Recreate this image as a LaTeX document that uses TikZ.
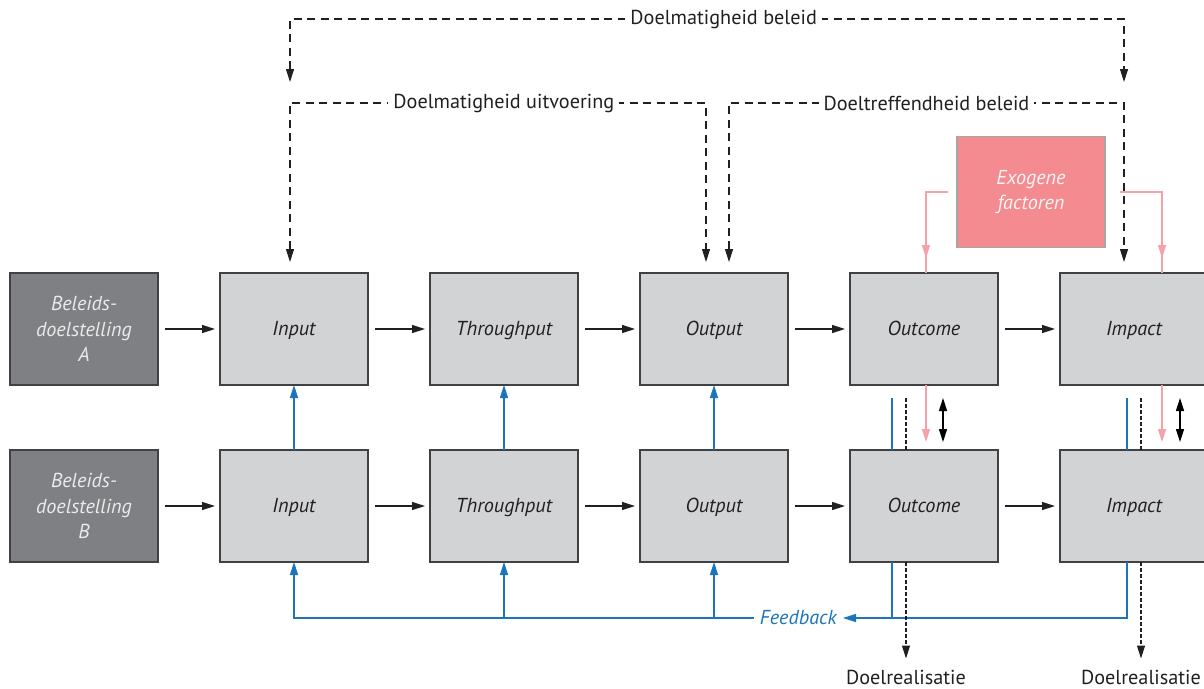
\documentclass[tikz,border=0pt]{standalone}
\usepackage{fontspec}
\setmainfont{PT Sans}
\usepackage{xcolor}
\usetikzlibrary{positioning, arrows.meta, calc, decorations.markings}

\definecolor{boxgrey}{HTML}{D1D3D4}
\definecolor{goalgrey}{HTML}{7F8083}
\definecolor{edgegrey}{HTML}{414042}
\definecolor{textdark}{HTML}{231F20}
\definecolor{fbblue}{HTML}{1C75BC}
\definecolor{exofill}{HTML}{F48B90}
\definecolor{exopink}{HTML}{F7A1A8}

\begin{document}
\begin{tikzpicture}[
    node distance=1.3cm and 1.24cm,
    >={Triangle[length=0.26cm, width=0.16cm]},
    every node/.style={font=\fontsize{11.5}{14.7}\selectfont},
    boxbase/.style={rectangle, draw=edgegrey, fill=boxgrey, line width=0.8pt, outer sep=0pt, minimum width=2.96cm, minimum height=2.24cm, align=center, font=\fontsize{11.5}{14.7}\selectfont\itshape, text=textdark},
    stage/.style={boxbase, text height=0.85em, text depth=0.16em},
    goal/.style={boxbase, fill=goalgrey, text=white!92!black},
    exo/.style={rectangle, draw=black!35, fill=exofill, line width=0.6pt, outer sep=0pt, minimum width=2.96cm, minimum height=2.22cm, align=center, font=\fontsize{11.5}{14.7}\selectfont\itshape, text=white!90!exofill},
    flow/.style={->, line width=0.7pt, draw=textdark, shorten <=0.14cm, shorten >=0.1cm},
    fbline/.style={line width=0.75pt, draw=fbblue},
    fbarrow/.style={fbline, ->},
    exoline/.style={line width=0.7pt, draw=exopink, postaction={decorate}, decoration={markings, mark=at position -0.3cm with {\arrow[exopink]{>}}}},
    exoarrow/.style={line width=0.7pt, draw=exopink, ->},
    dloop/.style={<->, line width=0.6pt, draw=textdark, dash pattern=on 0.16cm off 0.11cm},
    looplabel/.style={fill=white, inner xsep=0.1cm, inner ysep=1pt, text=textdark},
    realline/.style={line width=0.6pt, draw=textdark, dash pattern=on 0.07cm off 0.05cm},
    realarrow/.style={realline, ->, shorten >=0.1cm},
    dbl/.style={<->, line width=0.7pt, draw=black},
    fbtext/.style={text=fbblue, font=\fontsize{11.5}{14.7}\selectfont\itshape},
    endlabel/.style={text=textdark}
]
\useasboundingbox (0,0) rectangle (24.08,-13.76);

\node[goal] (goalA) at (1.68,-6.58) {Beleids-\\doelstelling\\A};
\node[stage, right=of goalA] (inA) {Input};
\node[stage, right=of inA] (thrA) {Throughput};
\node[stage, right=of thrA] (outA) {Output};
\node[stage, right=of outA] (outcA) {Outcome};
\node[stage, right=of outcA] (impA) {Impact};

\node[goal, below=of goalA] (goalB) {Beleids-\\doelstelling\\B};
\node[stage, right=of goalB] (inB) {Input};
\node[stage, right=of inB] (thrB) {Throughput};
\node[stage, right=of thrB] (outB) {Output};
\node[stage, right=of outB] (outcB) {Outcome};
\node[stage, right=of outcB] (impB) {Impact};

\node[exo] (exo) at (20.62,-3.84) {Exogene\\factoren};

\node[fbtext, anchor=east] (fbLabel) at (16.86,-12.36) {Feedback};
\node[endlabel] (realA) at (18.12,-13.54) {Doelrealisatie};
\node[endlabel] (realB) at (22.82,-13.54) {Doelrealisatie};

\draw[flow] (goalA) -- (inA);
\draw[flow] (inA) -- (thrA);
\draw[flow] (thrA) -- (outA);
\draw[flow] (outA) -- (outcA);
\draw[flow] (outcA) -- (impA);
\draw[flow] (goalB) -- (inB);
\draw[flow] (inB) -- (thrB);
\draw[flow] (thrB) -- (outB);
\draw[flow] (outB) -- (outcB);
\draw[flow] (outcB) -- (impB);

\draw[fbarrow] (inB) -- (inA);
\draw[fbarrow] (thrB) -- (thrA);
\draw[fbarrow] (outB) -- (outA);

\draw[dloop] ($(inA.north)+(-0.08,3.82)$) -- ++(0,1.26) -| node[looplabel, pos=0.26] {Doelmatigheid beleid} ($(impA.north)+(-0.2,3.82)$);
\draw[dloop] ($(inA.north)+(-0.08,0.22)$) -- ++(0,3.18) -| node[looplabel, pos=0.257] {Doelmatigheid uitvoering} ($(outA.north)+(-0.16,0.22)$);
\draw[dloop] ($(outA.north)+(0.3,0.22)$) -- ++(0,3.18) -| node[looplabel, pos=0.25] {Doeltreffendheid beleid} ($(impA.north)+(-0.2,0.22)$);

\draw[exoline] ($(exo.west)+(-0.18,0)$) -| ($(outcA.north)+(0.04,0)$);
\draw[exoline] ($(exo.east)+(0.3,0)$) -| ($(impA.north)+(0.56,0)$);
\draw[exoarrow] ($(outcA.south)+(0.04,0)$) -- ($(outcB.north)+(0.04,0.16)$);
\draw[exoarrow] ($(impA.south)+(0.56,0)$) -- ($(impB.north)+(0.56,0.16)$);

\draw[dbl] ($(outcA.south)+(0.38,-0.26)$) -- ($(outcB.north)+(0.38,0.16)$);
\draw[dbl] ($(impA.south)+(0.92,-0.26)$) -- ($(impB.north)+(0.92,0.16)$);

\draw[fbline] ($(outcA.south)+(-0.64,-0.26)$) -- ($(outcB.north)+(-0.64,0)$);
\draw[fbline] ($(impA.south)+(-0.14,-0.26)$) -- ($(impB.north)+(-0.14,0)$);
\draw[realline] ($(outcA.south -| realA)+(0,-0.26)$) -- (outcB.north -| realA);
\draw[realline] ($(impA.south -| realB)+(0,-0.26)$) -- (impB.north -| realB);

\draw[fbarrow] ($(impB.south)+(-0.14,0)$) |- (fbLabel.east);
\draw[fbline] ($(outcB.south)+(-0.64,0)$) -- ++(0,-1.12);
\draw[fbarrow] (fbLabel.west) -| (inB.south);
\draw[fbarrow] (fbLabel.west -| thrB.south) -- (thrB.south);
\draw[fbarrow] (fbLabel.west -| outB.south) -- (outB.south);

\draw[realarrow] (outcB.south -| realA) -- (realA);
\draw[realarrow] (impB.south -| realB) -- (realB);
\end{tikzpicture}
\end{document}
